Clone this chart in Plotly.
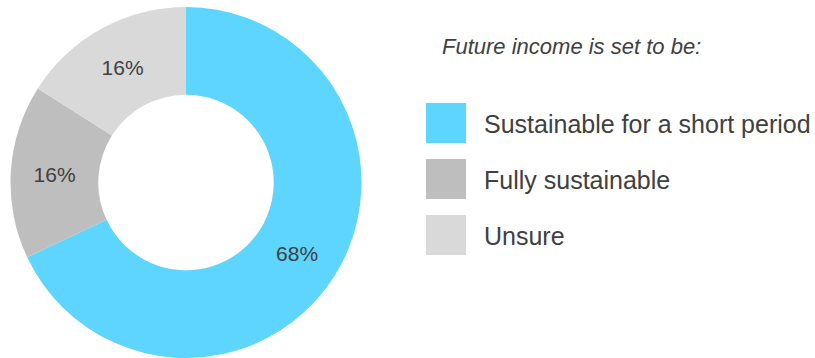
import plotly.graph_objects as go

labels = ["Sustainable for a short period", "Fully sustainable", "Unsure"]
values = [68, 16, 16]
colors = ["#5DD5FF", "#BEBEBE", "#D9D9D9"]
legend_title = "Future income is set to be:"

W, H = 815, 358
FONT = "Liberation Sans, Arial, sans-serif"
TXT = "#404040"

fig = go.Figure()
fig.add_trace(go.Pie(
    labels=labels, values=values, hole=0.5, sort=False, direction="clockwise",
    rotation=0,
    marker=dict(colors=colors, line=dict(width=0)),
    texttemplate="%{percent:.0%}", textposition="inside",
    insidetextorientation="horizontal",
    textfont=dict(family=FONT, size=21, color=TXT),
    domain=dict(x=[10.5 / W, 361.5 / W], y=[0, 1 - 7 / H]),
    showlegend=False, hoverinfo="label+percent",
))

shapes = []
annotations = [dict(
    x=440 / W, y=1 - 46 / H, xref="paper", yref="paper", xanchor="left", yanchor="middle",
    text="<i>" + legend_title + "</i>", showarrow=False,
    font=dict(family=FONT, size=22, color=TXT),
)]
for i, (lab, col) in enumerate(zip(labels, colors)):
    cy = 123 + 56 * i
    shapes.append(dict(
        type="rect", xref="paper", yref="paper",
        x0=426 / W, x1=466 / W, y0=1 - (cy - 20) / H, y1=1 - (cy + 20) / H,
        fillcolor=col, line=dict(width=0), layer="above",
    ))
    annotations.append(dict(
        x=482 / W, y=1 - (cy + 1) / H, xref="paper", yref="paper",
        xanchor="left", yanchor="middle", text=lab, showarrow=False,
        font=dict(family=FONT, size=25, color=TXT),
    ))

fig.update_layout(
    width=W, height=H, margin=dict(l=0, r=0, t=0, b=0),
    paper_bgcolor="white", plot_bgcolor="white",
    shapes=shapes, annotations=annotations,
)
fig.write_html("out.html")
